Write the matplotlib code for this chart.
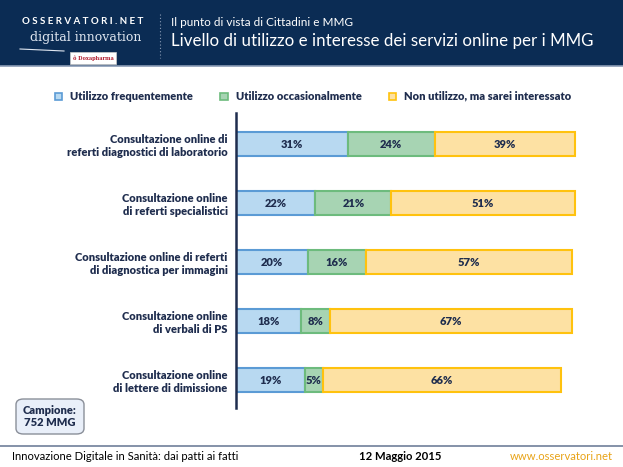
import matplotlib.pyplot as plt
from matplotlib.patches import Rectangle, FancyBboxPatch
from matplotlib.lines import Line2D

categories = [
    "Consultazione online di\nreferti diagnostici di laboratorio",
    "Consultazione online\ndi referti specialistici",
    "Consultazione online di referti\ndi diagnostica per immagini",
    "Consultazione online\ndi verbali di PS",
    "Consultazione online\ndi lettere di dimissione",
]
frequente = [31, 22, 20, 18, 19]
occasionale = [24, 21, 16, 8, 5]
interessato = [39, 51, 57, 67, 66]
series_names = ["Utilizzo frequentemente", "Utilizzo occasionalmente",
                "Non utilizzo, ma sarei interessato"]

navy = "#0b2c54"
text_col = "#1f2d4e"
fills = ["#b8d9f1", "#a7d4b3", "#fde1a3"]
edges = ["#5b9bd5", "#6dbb7d", "#ffc20e"]

plt.rcParams["font.family"] = ["Lato", "DejaVu Sans"]

fig = plt.figure(figsize=(6.23, 4.67), dpi=100)
W, H = 623, 467

def fx(x):
    return x / W

def fy(y):
    return 1 - y / H

# header band
fig.patches.append(Rectangle((0, fy(66)), 1, 66 / H, transform=fig.transFigure,
                             facecolor=navy, edgecolor="none", zorder=0))
fig.lines.append(Line2D([0, 1], [fy(66), fy(66)], transform=fig.transFigure,
                        color="#8a9bb5", lw=1.2))
fig.lines.append(Line2D([fx(160), fx(160)], [fy(14), fy(58)], transform=fig.transFigure,
                        color="#8a9bb5", lw=0.8, ls=(0, (1, 2))))
fig.text(fx(22), fy(22), "O S S E R V A T O R I . N E T", color="white", fontsize=7,
         fontweight="bold", va="center", ha="left")
fig.text(fx(30), fy(37), "digital innovation", color="#dfe6f0", fontsize=9,
         family="DejaVu Serif", va="center", ha="left")
fig.lines.append(Line2D([fx(20), fx(64)], [fy(49), fy(51)], transform=fig.transFigure,
                        color="#dfe6f0", lw=0.8))
fig.patches.append(Rectangle((fx(70), fy(64)), 46 / W, 12 / H, transform=fig.transFigure,
                             facecolor="white", edgecolor="#cccccc", lw=0.5))
fig.text(fx(93), fy(58), "ô Doxapharma", color="#b01c2e", fontsize=3.6,
         fontweight="bold", family="DejaVu Serif", va="center", ha="center")
fig.text(fx(171), fy(23), "Il punto di vista di Cittadini e MMG", color="white",
         fontsize=8.5, va="center", ha="left")
fig.text(fx(171), fy(41), "Livello di utilizzo e interesse dei servizi online per i MMG",
         color="white", fontsize=12.2, va="center", ha="left")

# chart
ax = fig.add_axes([fx(236), fy(408), 361 / W, 295 / H])
y = list(range(len(categories)))
lefts = [0] * len(categories)
for vals, fc, ec, name in zip([frequente, occasionale, interessato], fills, edges, series_names):
    bars = ax.barh(y, vals, left=lefts, height=0.41, color=fc, edgecolor=ec,
                   linewidth=1.5, label=name)
    for b, v in zip(bars, vals):
        ax.text(b.get_x() + b.get_width() / 2, b.get_y() + b.get_height() / 2,
                f"{v}%", ha="center", va="center", fontsize=8, fontweight="heavy",
                color=text_col)
    lefts = [l + v for l, v in zip(lefts, vals)]

ax.set_xlim(0, 100)
ax.set_ylim(4.47, -0.525)
ax.set_yticks(y)
ax.set_yticklabels(categories, fontsize=8, fontweight="heavy", color=text_col,
                   ha="right", linespacing=1.2)
ax.tick_params(axis="y", length=0, pad=6)
ax.set_xticks([])
for s in ["top", "right", "bottom"]:
    ax.spines[s].set_visible(False)
ax.spines["left"].set_color(text_col)
ax.spines["left"].set_linewidth(1.8)

# legend
leg_x = [58, 224, 392]
for lx, name, fc, ec in zip(leg_x, series_names, fills, edges):
    fig.patches.append(Rectangle((fx(lx - 3.5), fy(99.5)), 7 / W, 7 / H,
                                 transform=fig.transFigure, facecolor=fc,
                                 edgecolor=ec, lw=1.2))
    fig.text(fx(lx + 12), fy(96), name, fontsize=8, fontweight="heavy",
             color=text_col, va="center", ha="left")

# sample box
fig.patches.append(FancyBboxPatch((fx(16), fy(434)), 68 / W, 35 / H,
                                  boxstyle="round,pad=0,rounding_size=0.012",
                                  transform=fig.transFigure, facecolor="#e9eff9",
                                  edgecolor="#8a8f99", lw=1))
fig.text(fx(50), fy(416.5), "Campione:\n752 MMG", fontsize=8, fontweight="heavy",
         color=text_col, ha="center", va="center", linespacing=1.15)

# footer
fig.lines.append(Line2D([0, 1], [fy(446), fy(446)], transform=fig.transFigure,
                        color="#6f7f99", lw=1.2))
fig.text(fx(12), fy(457), "Innovazione Digitale in Sanità: dai patti ai fatti",
         fontsize=8.1, color="black", va="center", ha="left")
fig.text(fx(400), fy(457), "12 Maggio 2015", fontsize=8.1, fontweight="bold",
         color="black", va="center", ha="center")
fig.text(fx(613), fy(457), "www.osservatori.net", fontsize=8.1, color="#e8a317",
         va="center", ha="right")

fig.savefig("out.png", dpi=100)
